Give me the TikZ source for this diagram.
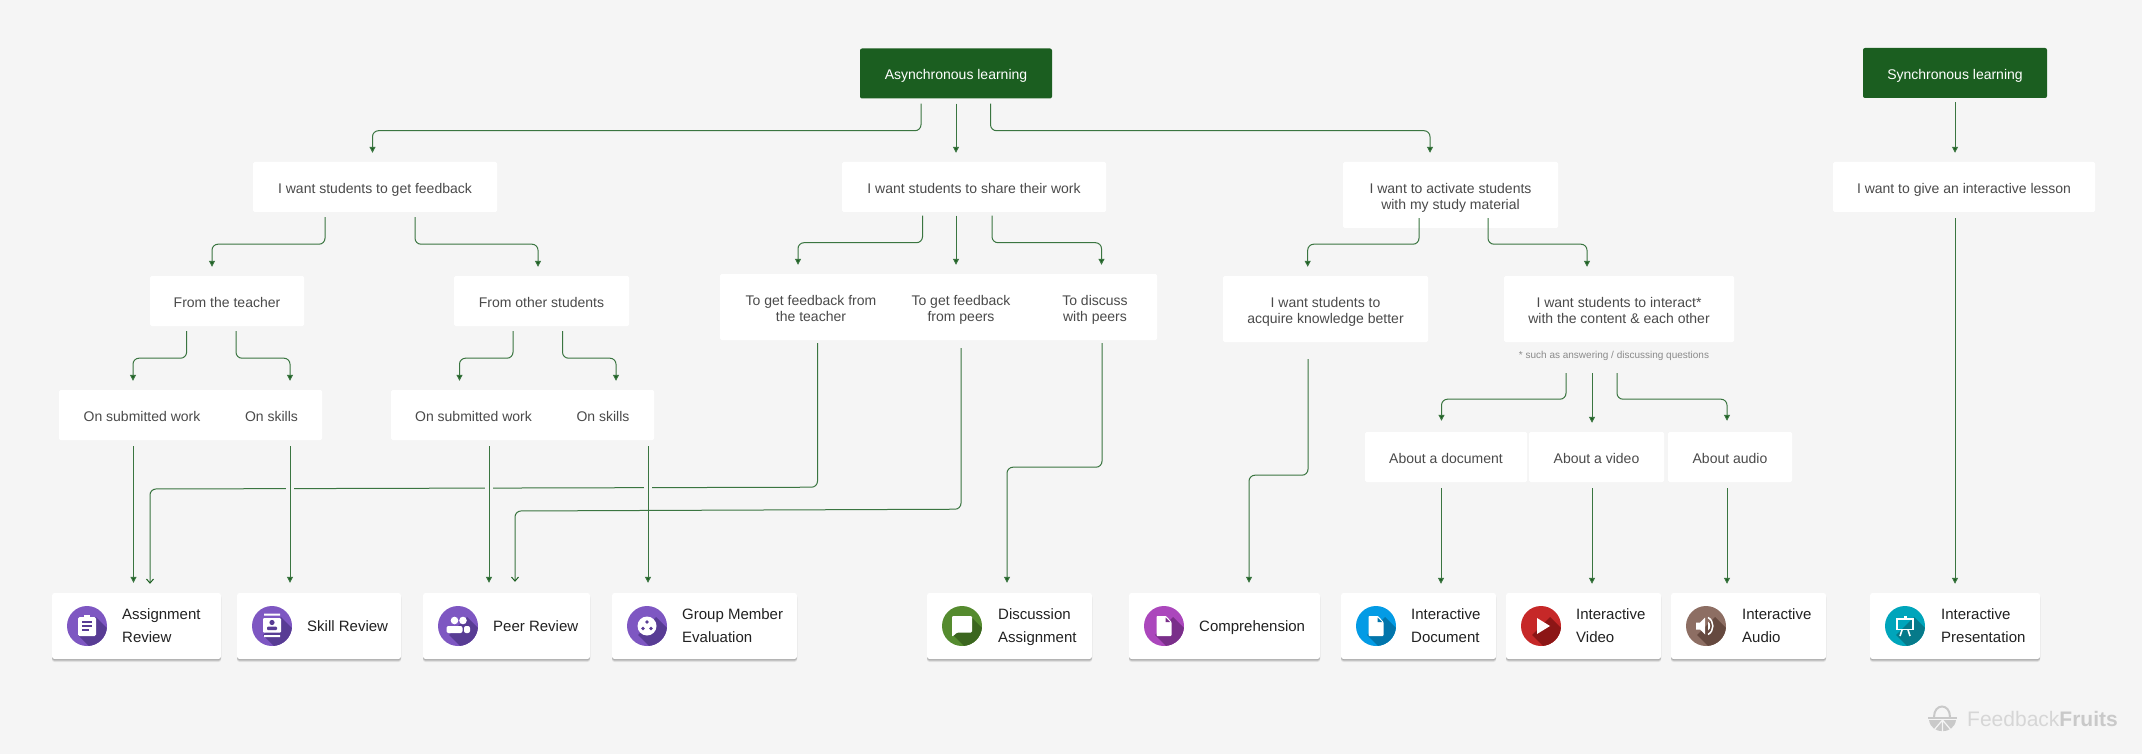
\documentclass[tikz,border=0pt]{standalone}
\usepackage{fontspec}
\setmainfont{Liberation Sans}
\usetikzlibrary{arrows.meta,shadows}

\definecolor{pagebg}{HTML}{F5F5F5}
\definecolor{leafgreen}{HTML}{1B5E20}
\definecolor{flowgreen}{HTML}{3A7540}
\definecolor{asktext}{HTML}{4A4A4A}
\definecolor{cardtext}{HTML}{212121}
\definecolor{notegray}{HTML}{8A8A8A}
\definecolor{purple1}{HTML}{7E57C2}
\definecolor{purple2}{HTML}{583C94}
\definecolor{green1}{HTML}{558B2F}
\definecolor{green2}{HTML}{3B661F}
\definecolor{orchid1}{HTML}{AB47BC}
\definecolor{orchid2}{HTML}{7A2F8A}
\definecolor{blue1}{HTML}{039BE5}
\definecolor{blue2}{HTML}{0275AB}
\definecolor{red1}{HTML}{C62828}
\definecolor{red2}{HTML}{8C1616}
\definecolor{brown1}{HTML}{8D6E63}
\definecolor{brown2}{HTML}{65493F}
\definecolor{teal1}{HTML}{00A5BB}
\definecolor{teal2}{HTML}{067A8A}
\definecolor{logogray}{HTML}{C9C9C9}

\tikzset{
  headbox/.style={fill=leafgreen, text=white, rounded corners=2pt, inner sep=0pt, align=center,
    text height=13pt, text depth=0.4pt, font=\fontsize{14}{16}\selectfont},
  askbox/.style={fill=white, text=asktext, rounded corners=1.5pt, inner sep=0pt, align=center,
    text height=13pt, text depth=0.4pt, font=\fontsize{14}{16}\selectfont},
  asklabel/.style={text=asktext, inner sep=0pt, align=center,
    text height=13pt, text depth=0.4pt, font=\fontsize{14}{16}\selectfont},
  twolines/.style={text height=29pt, text depth=0.4pt},
  toolcard/.style={fill=white, rounded corners=2.5pt, inner sep=0pt, minimum height=66pt,
    drop shadow={shadow xshift=0pt, shadow yshift=-3pt, fill=black, opacity=.07},
    drop shadow={shadow xshift=0pt, shadow yshift=-2pt, fill=black, opacity=.12},
    drop shadow={shadow xshift=0pt, shadow yshift=-1pt, fill=black, opacity=.14}},
  toollabel/.style={text=cardtext, anchor=west, inner sep=0pt, align=left,
    text height=13.5pt, text depth=3pt, font=\fontsize{15}{23}\selectfont},
  cardtwo/.style={text height=36.5pt, text depth=3pt},
  toolicon/.style={circle, inner sep=0pt, minimum size=40pt},
  flow/.style={draw=flowgreen, line width=1pt, rounded corners=6pt,
    -{Triangle[length=6pt,width=6pt,fill=leafgreen]}},
  flowopen/.style={draw=flowgreen, line width=1pt, rounded corners=6pt,
    -{Straight Barb[length=4pt,width=7pt,color=leafgreen]}},
}

% dark band that falls from an icon towards the lower right
\newcommand{\longshadow}[2]{%
  \begin{scope}
    \clip (#1.center) circle (20pt);
    \fill[#2] ([shift={(-9,9)}]#1.center) -- ([shift={(9,-9)}]#1.center) -- ([shift={(39,21)}]#1.center) -- ([shift={(21,39)}]#1.center) -- cycle;
  \end{scope}}

\begin{document}
\begin{tikzpicture}[x=1pt, y=-1pt]

  \useasboundingbox (0,0) rectangle (2142,754);
  \fill[pagebg] (0,0) rectangle (2142,754);

  % top row
  \node[headbox, minimum width=192pt, minimum height=50pt] (async) at (956,73.5) {Asynchronous learning};
  \node[headbox, minimum width=184pt, minimum height=50pt] (sync) at (1955,73) {Synchronous learning};

  % goals
  \node[askbox, minimum width=244pt, minimum height=50pt] (feedback) at (375,187) {I want students to get feedback};
  \node[askbox, minimum width=264pt, minimum height=50pt] (share) at (974,187) {I want students to share their work};
  \node[askbox, twolines, minimum width=215pt, minimum height=66pt] (activate) at (1450.5,195) {I want to activate students\\with my study material};
  \node[askbox, minimum width=262pt, minimum height=50pt] (lesson) at (1964,187) {I want to give an interactive lesson};

  % second level
  \node[askbox, minimum width=154pt, minimum height=50pt] (fromteacher) at (227,301) {From the teacher};
  \node[askbox, minimum width=175pt, minimum height=50pt] (fromstudents) at (541.5,301) {From other students};
  \node[askbox, minimum width=437pt, minimum height=66pt] (sharegroup) at (938.5,307) {};
  \node[asklabel, twolines] (toteacher) at (811,307) {To get feedback from\\the teacher};
  \node[asklabel, twolines] (topeers) at (961,307) {To get feedback\\from peers};
  \node[asklabel, twolines] (todiscuss) at (1095,307) {To discuss\\with peers};
  \node[askbox, twolines, minimum width=205pt, minimum height=66pt] (acquire) at (1325.5,309) {I want students to\\acquire knowledge better};
  \node[askbox, twolines, minimum width=230pt, minimum height=66pt] (interact) at (1619,309) {I want students to interact*\\with the content \& each other};
  \node[text=notegray, inner sep=0pt, font=\fontsize{10}{12}\selectfont] (asknote) at (1614,356) {* such as answering / discussing questions};

  % third level
  \node[askbox, minimum width=263pt, minimum height=50pt] (worka) at (190.5,415) {};
  \node[asklabel] (submitteda) at (142,415) {On submitted work};
  \node[asklabel] (skillsa) at (271.5,415) {On skills};
  \node[askbox, minimum width=263pt, minimum height=50pt] (workb) at (522.5,415) {};
  \node[asklabel] (submittedb) at (473.5,415) {On submitted work};
  \node[asklabel] (skillsb) at (603,415) {On skills};
  \node[askbox, minimum width=162pt, minimum height=50pt] (aboutdoc) at (1446,457) {About a document};
  \node[askbox, minimum width=135pt, minimum height=50pt] (aboutvideo) at (1596.5,457) {About a video};
  \node[askbox, minimum width=124pt, minimum height=50pt] (aboutaudio) at (1730,457) {About audio};

  % cards
  \node[toolcard, minimum width=169pt] (assignment) at (136.5,626) {};
  \node[toolcard, minimum width=164pt] (skill) at (319,626) {};
  \node[toolcard, minimum width=167pt] (peer) at (506.5,626) {};
  \node[toolcard, minimum width=185pt] (groupeval) at (704.5,626) {};
  \node[toolcard, minimum width=165pt] (discussion) at (1009.5,626) {};
  \node[toolcard, minimum width=191pt] (comprehension) at (1224.5,626) {};
  \node[toolcard, minimum width=155pt] (intdoc) at (1418.5,626) {};
  \node[toolcard, minimum width=155pt] (intvideo) at (1583.5,626) {};
  \node[toolcard, minimum width=155pt] (intaudio) at (1748.5,626) {};
  \node[toolcard, minimum width=170pt] (intpres) at (1955,626) {};

  \node[toollabel, cardtwo] (assignmenttext) at (122,626) {Assignment\\Review};
  \node[toollabel] (skilltext) at (307,626) {Skill Review};
  \node[toollabel] (peertext) at (493,626) {Peer Review};
  \node[toollabel, cardtwo] (groupevaltext) at (682,626) {Group Member\\Evaluation};
  \node[toollabel, cardtwo] (discussiontext) at (998,626) {Discussion\\Assignment};
  \node[toollabel] (comprehensiontext) at (1199,626) {Comprehension};
  \node[toollabel, cardtwo] (intdoctext) at (1411,626) {Interactive\\Document};
  \node[toollabel, cardtwo] (intvideotext) at (1576,626) {Interactive\\Video};
  \node[toollabel, cardtwo] (intaudiotext) at (1742,626) {Interactive\\Audio};
  \node[toollabel, cardtwo] (intprestext) at (1941,626) {Interactive\\Presentation};

  % icons
  \node[toolicon, fill=purple1] (assignmenticon) at (87,626) {};
  \longshadow{assignmenticon}{purple2}
  \begin{scope}[shift={(87,626)}]
    \fill[white, rounded corners=1.5pt] (-9,-9) rectangle (9,10);
    \fill[white] (-3,-11) rectangle (3,-8);
    \draw[purple2, line width=1.5pt] (-5,-4) -- (5,-4) (-5,0) -- (5,0) (-5,4) -- (1.5,4);
  \end{scope}

  \node[toolicon, fill=purple1] (skillicon) at (272,626) {};
  \longshadow{skillicon}{purple2}
  \begin{scope}[shift={(272,626)}]
    \fill[white] (-8,-12.5) rectangle (8,-10.5) (-8,9) rectangle (8,11);
    \fill[white, rounded corners=1pt] (-9,-8) rectangle (9,6.5);
    \fill[purple2] (0,-3.5) circle (2.6pt);
    \fill[purple2, rounded corners=1pt] (-5,4) rectangle (5,0.5);
  \end{scope}

  \node[toolicon, fill=purple1] (peericon) at (458,626) {};
  \longshadow{peericon}{purple2}
  \begin{scope}[shift={(458,626)}]
    \fill[white] (-3.5,-5.5) circle (3.8pt) (5,-5.5) circle (3.8pt);
    \fill[white, rounded corners=2pt] (-11.5,7) rectangle (4.5,0);
    \fill[white, rounded corners=2pt] (6,7) rectangle (12,0);
  \end{scope}

  \node[toolicon, fill=purple1] (groupevalicon) at (647,626) {};
  \longshadow{groupevalicon}{purple2}
  \begin{scope}[shift={(647,626)}]
    \fill[white] (0,0) circle (9.5pt);
    \fill[purple2] (0,-4) circle (1.9pt) (-4,2.5) circle (1.9pt) (4,2.5) circle (1.9pt);
  \end{scope}

  \node[toolicon, fill=green1] (discussionicon) at (962,626) {};
  \longshadow{discussionicon}{green2}
  \begin{scope}[shift={(962,626)}]
    \fill[white, rounded corners=1.2pt] (-10,-10) -- (10,-10) -- (10,6.5) -- (-5,6.5) -- (-10,11) -- cycle;
  \end{scope}

  \node[toolicon, fill=orchid1] (comprehensionicon) at (1164,626) {};
  \longshadow{comprehensionicon}{orchid2}
  \begin{scope}[shift={(1164,626)}]
    \fill[white, rounded corners=.8pt] (-7.5,-10) -- (2,-10) -- (7.5,-4) -- (7.5,10) -- (-7.5,10) -- cycle;
    \fill[orchid2] (1.5,-8.5) -- (1.5,-4) -- (6,-4) -- cycle;
  \end{scope}

  \node[toolicon, fill=blue1] (intdocicon) at (1376,626) {};
  \longshadow{intdocicon}{blue2}
  \begin{scope}[shift={(1376,626)}]
    \fill[white, rounded corners=.8pt] (-7.5,-10) -- (2,-10) -- (7.5,-4) -- (7.5,10) -- (-7.5,10) -- cycle;
    \fill[blue2] (1.5,-8.5) -- (1.5,-4) -- (6,-4) -- cycle;
  \end{scope}

  \node[toolicon, fill=red1] (intvideoicon) at (1541,626) {};
  \longshadow{intvideoicon}{red2}
  \fill[white] (1537,618) -- (1550,626) -- (1537,634) -- cycle;

  \node[toolicon, fill=brown1] (intaudioicon) at (1706,626) {};
  \longshadow{intaudioicon}{brown2}
  \begin{scope}[shift={(1706,626)}]
    \fill[white] (-10,-3.5) -- (-6,-3.5) -- (-1,-8.5) -- (-1,8.5) -- (-6,3.5) -- (-10,3.5) -- cycle;
    \fill[white] (2,-4.5) .. controls (5,-2.5) and (5,2.5) .. (2,4.5) -- cycle;
    \draw[white, line width=1.5pt] (2,-8.5) .. controls (8.5,-5) and (8.5,5) .. (2,8.5);
  \end{scope}

  \node[toolicon, fill=teal1] (intpresicon) at (1905,626) {};
  \longshadow{intpresicon}{teal2}
  \begin{scope}[shift={(1905,626)}]
    \draw[white, line width=1.8pt] (-8,-7) rectangle (8,3.5);
    \draw[white, line width=1.6pt] (-3,4) -- (-5,10) (3,4) -- (5,10);
    \fill[white] (-1.5,-10) rectangle (1.5,-7);
  \end{scope}

  % arrows from the top row
  \draw[flow] ([xshift=-35,yshift=-5]async.south) -- ++(0,27) -| ([xshift=-2.5,yshift=9]feedback.north);
  \draw[flow] ([yshift=-5]async.south) -- ([xshift=-18,yshift=9]share.north);
  \draw[flow] ([xshift=34.5,yshift=-5]async.south) -- ++(0,27) -| ([xshift=-20.5,yshift=9]activate.north);
  \draw[flow] ([yshift=-4]sync.south) -- ([xshift=-9,yshift=9]lesson.north);

  % arrows from the goals
  \draw[flow] ([xshift=-50,yshift=-5]feedback.south) -- ++(0,27) -| ([xshift=-15,yshift=9]fromteacher.north);
  \draw[flow] ([xshift=40,yshift=-5]feedback.south) -- ++(0,27) -| ([xshift=-3.5,yshift=9]fromstudents.north);
  \draw[flow] ([xshift=-51.5,yshift=-3.5]share.south) -- ++(0,27) -| ([xshift=-140.5,yshift=9]sharegroup.north);
  \draw[flow] ([xshift=-18,yshift=-3.5]share.south) -- ([xshift=17.5,yshift=9]sharegroup.north);
  \draw[flow] ([xshift=18,yshift=-3.5]share.south) -- ++(0,27) -| ([xshift=163,yshift=9]sharegroup.north);
  \draw[flow] ([xshift=-31.5,yshift=10]activate.south) -- ++(0,26) -| ([xshift=-17.8,yshift=9]acquire.north);
  \draw[flow] ([xshift=37.5,yshift=10]activate.south) -- ++(0,26) -| ([xshift=-32,yshift=9]interact.north);

  % arrows from the second level
  \draw[flow] ([xshift=-40.4,yshift=-5]fromteacher.south) -- ++(0,27) -| ([xshift=-57.5,yshift=9]worka.north);
  \draw[flow] ([xshift=9,yshift=-5]fromteacher.south) -- ++(0,27) -| ([xshift=99.5,yshift=9]worka.north);
  \draw[flow] ([xshift=-28.5,yshift=-5]fromstudents.south) -- ++(0,27) -| ([xshift=-63,yshift=9]workb.north);
  \draw[flow] ([xshift=21,yshift=-5]fromstudents.south) -- ++(0,27) -| ([xshift=93.5,yshift=9]workb.north);
  \draw[flow] ([xshift=-53,yshift=-31]interact.south) -- ++(0,26) -| ([xshift=-4.5,yshift=11]aboutdoc.north);
  \draw[flow] ([xshift=-27,yshift=-31]interact.south) -- ([xshift=-4.5,yshift=9]aboutvideo.north);
  \draw[flow] ([xshift=-2,yshift=-31]interact.south) -- ++(0,26) -| ([xshift=-3,yshift=11]aboutaudio.north);

  % long way round to the cards, with openings where it passes other lines
  \coordinate (teacherbend) at (150,489);
  \coordinate (peersbend) at (515,511);
  \draw[flowopen] ([xshift=-121,yshift=-3]sharegroup.south) -- ++(0,144) -- (teacherbend) -- ([xshift=13.5,yshift=9]assignment.north);
  \fill[pagebg] (286,484) rectangle (294,492);
  \fill[pagebg] (485,484) rectangle (493,492);
  \fill[pagebg] (644,484) rectangle (652,492);
  \draw[flowopen] ([xshift=22.5,yshift=-8]sharegroup.south) -- ++(0,161) -- (peersbend) -- ([xshift=8.5,yshift=11]peer.north);
  \draw[flow] ([xshift=163.5,yshift=-3]sharegroup.south) -- ++(0,124) -| ([xshift=-2.5,yshift=10]discussion.north);
  \draw[flow] ([xshift=-17.5,yshift=-17]acquire.south) -- ++(0,116) -| ([xshift=24.5,yshift=10]comprehension.north);

  % straight down to the cards
  \draw[flow] ([xshift=-57,yshift=-6]worka.south) -- ([xshift=-3,yshift=10]assignment.north);
  \draw[flow] ([xshift=99.5,yshift=-6]worka.south) -- ([xshift=-29,yshift=10]skill.north);
  \draw[flow] ([xshift=-33.5,yshift=-6]workb.south) -- ([xshift=-17.5,yshift=10]peer.north);
  \draw[flow] ([xshift=125.5,yshift=-6]workb.south) -- ([xshift=-56.5,yshift=10]groupeval.north);
  \draw[flow] ([xshift=-5,yshift=-6]aboutdoc.south) -- ([xshift=22.5,yshift=9]intdoc.north);
  \draw[flow] ([xshift=-4.5,yshift=-6]aboutvideo.south) -- ([xshift=8.5,yshift=9]intvideo.north);
  \draw[flow] ([xshift=-3,yshift=-6]aboutaudio.south) -- ([xshift=-21.5,yshift=9]intaudio.north);
  \draw[flow] ([xshift=-9,yshift=-6]lesson.south) -- ([yshift=9]intpres.north);

  % logo
  \draw[logogray, line width=2pt] (1934,717) .. controls (1934,703) and (1950,703) .. (1950,717);
  \draw[logogray, line width=2pt] (1928,717.5) -- (1957,717.5);
  \fill[logogray] (1929,720) .. controls (1931,735) and (1954,735) .. (1956,720) -- cycle;
  \draw[pagebg, line width=1.2pt] (1942.5,720) -- (1934,730) (1942.5,720) -- (1942.5,733) (1942.5,720) -- (1951,730);
  \node[anchor=west, inner sep=0pt, text=logogray, font=\fontsize{21}{24}\selectfont] (logotext) at (1967,719)
    {\textcolor{logogray!75}{Feedback}\textbf{Fruits}};

\end{tikzpicture}
\end{document}
